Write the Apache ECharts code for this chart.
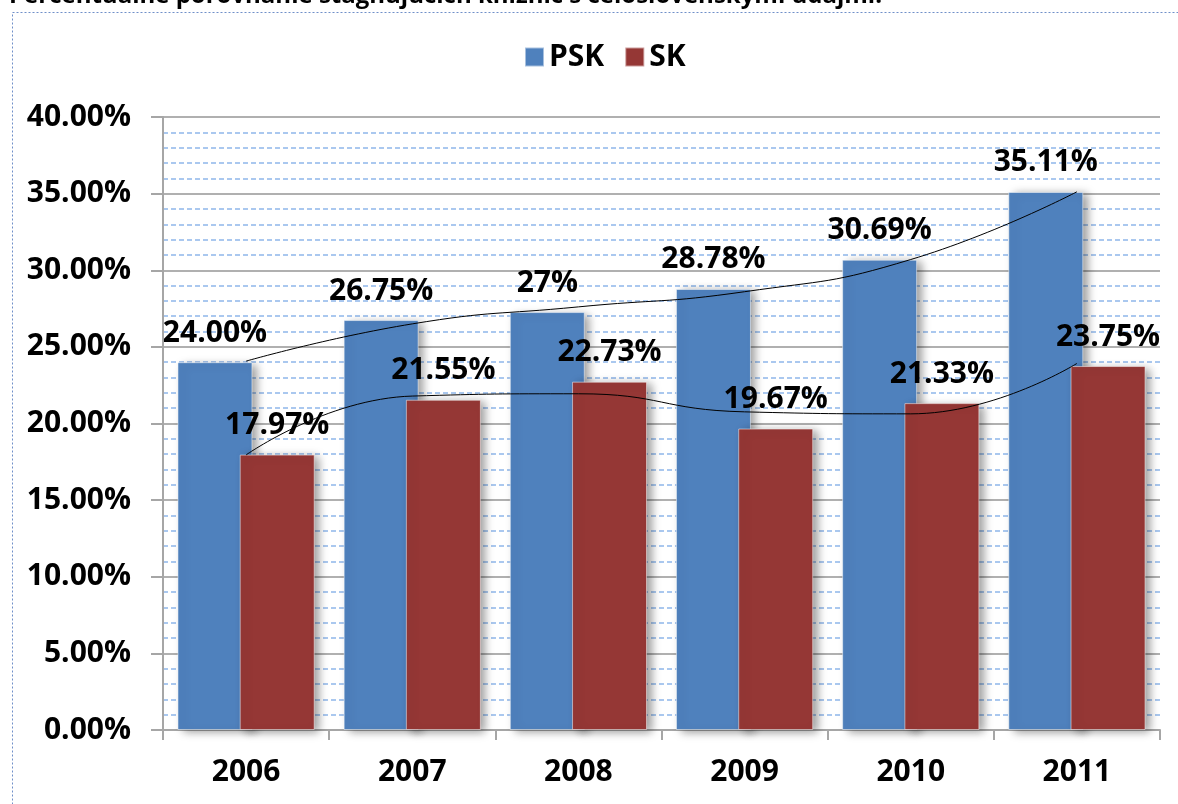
<!DOCTYPE html>
<html>
<head>
<meta charset="utf-8">
<script src="https://cdn.jsdelivr.net/npm/echarts@6/dist/echarts.min.js"></script>
<style>
  html, body { margin: 0; padding: 0; background: #fff; }
  #chart { width: 1178px; height: 804px; }
</style>
</head>
<body>
<div id="chart"></div>
<script>
var years = ['2006', '2007', '2008', '2009', '2010', '2011'];
var psk = [24.00, 26.75, 27.27, 28.78, 30.69, 35.11];
var sk = [17.97, 21.55, 22.73, 19.67, 21.33, 23.75];
var pskLabels = ['24.00%', '26.75%', '27%', '28.78%', '30.69%', '35.11%'];
var skLabels = ['17.97%', '21.55%', '22.73%', '19.67%', '21.33%', '23.75%'];
// trend curves (at each year)
var pskTrend = [24.07, 26.50, 27.61, 28.60, 30.70, 35.12];
var skTrend = [17.95, 21.79, 21.94, 20.76, 20.63, 23.92];

var font = '"Open Sans", "Liberation Sans", sans-serif';

var chart = echarts.init(document.getElementById('chart'));

var option = {
  animation: false,
  title: {
    text: 'Percentuálne porovnanie stagnujúcich knižníc s celoslovenskými údajmi.',
    left: 4,
    top: -21,
    textStyle: { fontFamily: font, fontSize: 24, fontWeight: 'bold', color: '#000' }
  },
  graphic: [{
    type: 'rect',
    shape: { x: 12.5, y: 12.5, width: 1200, height: 900 },
    style: { fill: 'none', stroke: '#6f8fc8', lineWidth: 1, lineDash: [2, 2] },
    silent: true
  }],
  legend: {
    left: 519,
    top: 37,
    itemWidth: 19,
    itemHeight: 19,
    itemGap: 20,
    icon: 'rect',
    data: ['PSK', 'SK'],
    textStyle: { fontFamily: font, fontSize: 30, fontWeight: 'bold', color: '#000' }
  },
  grid: { left: 163, right: 18, top: 117, bottom: 74 },
  xAxis: {
    type: 'category',
    data: years,
    axisLine: { lineStyle: { color: '#a6a6a6', width: 2 } },
    axisTick: { show: true, length: 10, lineStyle: { color: '#a6a6a6', width: 2 } },
    axisLabel: { margin: 27, fontFamily: font, fontSize: 30, fontWeight: 'bold', color: '#000' }
  },
  yAxis: {
    type: 'value',
    min: 0,
    max: 40,
    interval: 5,
    axisLine: { show: true, lineStyle: { color: '#a6a6a6', width: 2 } },
    axisTick: { show: true, length: 12, lineStyle: { color: '#a6a6a6', width: 2 } },
    axisLabel: {
      margin: 32,
      fontFamily: font, fontSize: 30, fontWeight: 'bold', color: '#000',
      formatter: function (v) { return v.toFixed(2) + '%'; }
    },
    splitLine: { show: true, lineStyle: { color: '#b0b0b0', width: 2 } },
    minorTick: { show: false, splitNumber: 5 },
    minorSplitLine: { show: true, lineStyle: { color: '#8fb6ea', width: 1.5, type: [5, 3] } }
  },
  series: [
    {
      name: 'PSK',
      type: 'bar',
      data: psk,
      barWidth: 75,
      barGap: '-17%',
      itemStyle: {
        color: '#4f81bd',
        borderColor: 'rgba(255,255,255,0.5)',
        borderWidth: 1,
        shadowBlur: 9,
        shadowOffsetX: 5,
        shadowOffsetY: 2,
        shadowColor: 'rgba(0,0,0,0.4)'
      },
      label: {
        show: true,
        position: 'top',
        distance: 14,
        fontFamily: font, fontSize: 30, fontWeight: 'bold', color: '#000',
        formatter: function (p) { return pskLabels[p.dataIndex]; }
      },
      z: 2
    },
    {
      name: 'SK',
      type: 'bar',
      data: sk,
      barWidth: 75,
      itemStyle: {
        color: '#953735',
        borderColor: 'rgba(255,255,255,0.5)',
        borderWidth: 1,
        shadowBlur: 9,
        shadowOffsetX: 5,
        shadowOffsetY: 2,
        shadowColor: 'rgba(0,0,0,0.4)'
      },
      label: {
        show: true,
        position: 'top',
        distance: 14,
        fontFamily: font, fontSize: 30, fontWeight: 'bold', color: '#000',
        formatter: function (p) { return skLabels[p.dataIndex]; }
      },
      z: 3
    },
    {
      name: 'PSK trend',
      type: 'line',
      data: pskTrend,
      smooth: 0.5,
      showSymbol: false,
      lineStyle: { color: '#000', width: 1 },
      z: 4
    },
    {
      name: 'SK trend',
      type: 'line',
      data: skTrend,
      smooth: 0.5,
      showSymbol: false,
      lineStyle: { color: '#000', width: 1 },
      z: 4
    }
  ]
};

chart.setOption(option);
</script>
</body>
</html>
